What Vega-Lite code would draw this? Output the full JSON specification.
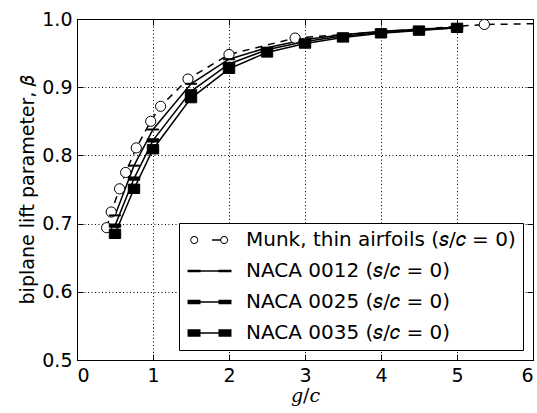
{
  "$schema": "https://vega.github.io/schema/vega-lite/v6.json",
  "width": 456,
  "height": 341,
  "autosize": "none",
  "padding": {"left": 77, "top": 19, "right": 4, "bottom": 53},
  "background": "white",
  "config": {
    "view": {"stroke": "black", "strokeWidth": 1},
    "font": "DejaVu Sans",
    "axis": {
      "labelFont": "DejaVu Sans",
      "labelFontSize": 19,
      "labelColor": "black",
      "domainColor": "black",
      "domainWidth": 1,
      "tickColor": "black",
      "tickWidth": 1,
      "gridColor": "black",
      "gridDash": [1, 2.5],
      "gridWidth": 1,
      "gridOpacity": 1
    }
  },
  "data": {
    "values": [
      {"series": "Munk, thin airfoils (𝑠/𝑐 = 0)", "g": 0.39, "beta": 0.694},
      {"series": "Munk, thin airfoils (𝑠/𝑐 = 0)", "g": 0.45, "beta": 0.717},
      {"series": "Munk, thin airfoils (𝑠/𝑐 = 0)", "g": 0.56, "beta": 0.751},
      {"series": "Munk, thin airfoils (𝑠/𝑐 = 0)", "g": 0.64, "beta": 0.775},
      {"series": "Munk, thin airfoils (𝑠/𝑐 = 0)", "g": 0.78, "beta": 0.811},
      {"series": "Munk, thin airfoils (𝑠/𝑐 = 0)", "g": 0.97, "beta": 0.85},
      {"series": "Munk, thin airfoils (𝑠/𝑐 = 0)", "g": 1.1, "beta": 0.872},
      {"series": "Munk, thin airfoils (𝑠/𝑐 = 0)", "g": 1.46, "beta": 0.912},
      {"series": "Munk, thin airfoils (𝑠/𝑐 = 0)", "g": 2.0, "beta": 0.948},
      {"series": "Munk, thin airfoils (𝑠/𝑐 = 0)", "g": 2.87, "beta": 0.972},
      {"series": "Munk, thin airfoils (𝑠/𝑐 = 0)", "g": 5.36, "beta": 0.992},
      {"series": "Munk, thin airfoils (𝑠/𝑐 = 0)", "g": 6.0, "beta": 0.993},
      {"series": "NACA 0012 (𝑠/𝑐 = 0)", "g": 0.5, "beta": 0.712},
      {"series": "NACA 0012 (𝑠/𝑐 = 0)", "g": 0.75, "beta": 0.785},
      {"series": "NACA 0012 (𝑠/𝑐 = 0)", "g": 1.0, "beta": 0.838},
      {"series": "NACA 0012 (𝑠/𝑐 = 0)", "g": 1.5, "beta": 0.905},
      {"series": "NACA 0012 (𝑠/𝑐 = 0)", "g": 2.0, "beta": 0.941},
      {"series": "NACA 0012 (𝑠/𝑐 = 0)", "g": 2.5, "beta": 0.958},
      {"series": "NACA 0012 (𝑠/𝑐 = 0)", "g": 3.0, "beta": 0.97},
      {"series": "NACA 0012 (𝑠/𝑐 = 0)", "g": 3.5, "beta": 0.977},
      {"series": "NACA 0012 (𝑠/𝑐 = 0)", "g": 4.0, "beta": 0.982},
      {"series": "NACA 0012 (𝑠/𝑐 = 0)", "g": 4.5, "beta": 0.985},
      {"series": "NACA 0012 (𝑠/𝑐 = 0)", "g": 5.0, "beta": 0.988},
      {"series": "NACA 0025 (𝑠/𝑐 = 0)", "g": 0.5, "beta": 0.697},
      {"series": "NACA 0025 (𝑠/𝑐 = 0)", "g": 0.75, "beta": 0.766},
      {"series": "NACA 0025 (𝑠/𝑐 = 0)", "g": 1.0, "beta": 0.822},
      {"series": "NACA 0025 (𝑠/𝑐 = 0)", "g": 1.5, "beta": 0.894},
      {"series": "NACA 0025 (𝑠/𝑐 = 0)", "g": 2.0, "beta": 0.934},
      {"series": "NACA 0025 (𝑠/𝑐 = 0)", "g": 2.5, "beta": 0.955},
      {"series": "NACA 0025 (𝑠/𝑐 = 0)", "g": 3.0, "beta": 0.967},
      {"series": "NACA 0025 (𝑠/𝑐 = 0)", "g": 3.5, "beta": 0.975},
      {"series": "NACA 0025 (𝑠/𝑐 = 0)", "g": 4.0, "beta": 0.98},
      {"series": "NACA 0025 (𝑠/𝑐 = 0)", "g": 4.5, "beta": 0.984},
      {"series": "NACA 0025 (𝑠/𝑐 = 0)", "g": 5.0, "beta": 0.987},
      {"series": "NACA 0035 (𝑠/𝑐 = 0)", "g": 0.5, "beta": 0.685},
      {"series": "NACA 0035 (𝑠/𝑐 = 0)", "g": 0.75, "beta": 0.751},
      {"series": "NACA 0035 (𝑠/𝑐 = 0)", "g": 1.0, "beta": 0.809},
      {"series": "NACA 0035 (𝑠/𝑐 = 0)", "g": 1.5, "beta": 0.884},
      {"series": "NACA 0035 (𝑠/𝑐 = 0)", "g": 2.0, "beta": 0.927},
      {"series": "NACA 0035 (𝑠/𝑐 = 0)", "g": 2.5, "beta": 0.951},
      {"series": "NACA 0035 (𝑠/𝑐 = 0)", "g": 3.0, "beta": 0.964},
      {"series": "NACA 0035 (𝑠/𝑐 = 0)", "g": 3.5, "beta": 0.973},
      {"series": "NACA 0035 (𝑠/𝑐 = 0)", "g": 4.0, "beta": 0.979},
      {"series": "NACA 0035 (𝑠/𝑐 = 0)", "g": 4.5, "beta": 0.983},
      {"series": "NACA 0035 (𝑠/𝑐 = 0)", "g": 5.0, "beta": 0.987}
    ]
  },
  "resolve": {
    "axis": {"x": "independent", "y": "independent"},
    "scale": {"shape": "independent"}
  },
  "layer": [
    {
      "transform": [{"filter": {"field": "series", "equal": "Munk, thin airfoils (𝑠/𝑐 = 0)"}}],
      "mark": {"type": "line", "color": "black", "strokeWidth": 1.5, "strokeDash": [7, 6], "clip": true},
      "encoding": {
        "x": {
          "field": "g", "type": "quantitative",
          "scale": {"domain": [0, 6], "nice": false, "zero": false},
          "axis": {
            "orient": "bottom", "values": [0, 1, 2, 3, 4, 5, 6], "format": "d",
            "grid": true, "tickSize": -6, "labelPadding": 12,
            "title": "𝑔/𝑐", "titleFont": "DejaVu Serif", "titleFontSize": 19,
            "titleFontWeight": "normal", "titleColor": "black", "titleY": 26
          }
        },
        "y": {
          "field": "beta", "type": "quantitative",
          "scale": {"domain": [0.5, 1.0], "nice": false, "zero": false},
          "axis": {
            "orient": "left", "values": [0.5, 0.6, 0.7, 0.8, 0.9, 1.0], "format": ".1f",
            "grid": true, "tickSize": -6, "labelPadding": 11,
            "title": "biplane lift parameter, 𝛽", "titleFont": "DejaVu Sans", "titleFontSize": 19,
            "titleFontWeight": "normal", "titleColor": "black", "titleX": -40
          }
        }
      }
    },
    {
      "transform": [{"filter": {"not": {"field": "series", "equal": "Munk, thin airfoils (𝑠/𝑐 = 0)"}}}],
      "mark": {"type": "line", "color": "black", "strokeWidth": 1.5, "clip": true},
      "encoding": {
        "x": {"field": "g", "type": "quantitative", "axis": null},
        "y": {"field": "beta", "type": "quantitative", "axis": null},
        "detail": {"field": "series"}
      }
    },
    {
      "transform": [{"filter": "datum.g < 6"}],
      "mark": {"type": "point", "filled": true, "opacity": 1, "stroke": "black", "strokeWidth": 1, "size": 144},
      "encoding": {
        "x": {
          "field": "g", "type": "quantitative",
          "axis": {"orient": "top", "values": [0, 1, 2, 3, 4, 5, 6], "labels": false, "grid": false, "tickSize": -6, "title": null}
        },
        "y": {
          "field": "beta", "type": "quantitative",
          "axis": {"orient": "right", "values": [0.5, 0.6, 0.7, 0.8, 0.9, 1.0], "labels": false, "grid": false, "tickSize": -6, "title": null}
        },
        "fill": {
          "condition": {"test": {"field": "series", "equal": "Munk, thin airfoils (𝑠/𝑐 = 0)"}, "value": "white"},
          "value": "black"
        },
        "shape": {
          "field": "series", "type": "nominal", "legend": null,
          "scale": {
            "domain": ["Munk, thin airfoils (𝑠/𝑐 = 0)", "NACA 0012 (𝑠/𝑐 = 0)", "NACA 0025 (𝑠/𝑐 = 0)", "NACA 0035 (𝑠/𝑐 = 0)"],
            "range": [
              "M-0.85,0A0.85,0.85,0,1,1,0.85,0A0.85,0.85,0,1,1,-0.85,0Z",
              "M-0.95,-0.08H0.95V0.08H-0.95Z",
              "M-0.95,-0.27H0.95V0.27H-0.95Z",
              "M-0.95,-0.78H0.95V0.78H-0.95Z"
            ]
          }
        }
      }
    },
    {
      "transform": [{"filter": "datum.g < 6"}],
      "mark": {"type": "point", "filled": true, "opacity": 0, "fill": "black", "strokeWidth": 0},
      "encoding": {
        "x": {"field": "g", "type": "quantitative", "axis": null},
        "y": {"field": "beta", "type": "quantitative", "axis": null},
        "shape": {
          "field": "series", "type": "nominal",
          "scale": {
            "domain": ["Munk, thin airfoils (𝑠/𝑐 = 0)", "NACA 0012 (𝑠/𝑐 = 0)", "NACA 0025 (𝑠/𝑐 = 0)", "NACA 0035 (𝑠/𝑐 = 0)"],
            "range": [
              "M-0.72,0A0.5,0.5,0,1,1,0.28,0A0.5,0.5,0,1,1,-0.72,0ZM-0.6,0A0.38,0.38,0,1,0,0.16,0A0.38,0.38,0,1,0,-0.6,0ZM2,-0.09H3.03V0.09H2ZM3.02,0A0.5,0.5,0,1,1,4.02,0A0.5,0.5,0,1,1,3.02,0ZM3.14,0A0.38,0.38,0,1,0,3.9,0A0.38,0.38,0,1,0,3.14,0Z",
              "M-0.25,-0.09H3.625V0.09H-0.25ZM-1.06,-0.17H0.565V0.17H-1.06ZM2.81,-0.17H4.435V0.17H2.81Z",
              "M-0.25,-0.09H3.625V0.09H-0.25ZM-1.06,-0.29H0.565V0.29H-1.06ZM2.81,-0.29H4.435V0.29H2.81Z",
              "M-0.25,-0.09H3.625V0.09H-0.25ZM-1.06,-0.48H0.565V0.48H-1.06ZM2.81,-0.48H4.435V0.48H2.81Z"
            ]
          },
          "legend": {
            "title": null,
            "orient": "bottom-right",
            "offset": 10,
            "padding": 7,
            "strokeColor": "black",
            "fillColor": "white",
            "cornerRadius": 0,
            "labelFont": "DejaVu Sans",
            "labelFontSize": 20,
            "labelColor": "black",
            "labelLimit": 400,
            "labelOffset": 40,
            "rowPadding": 11,
            "symbolSize": 256,
            "symbolOpacity": 1,
            "symbolFillColor": "black",
            "symbolStrokeWidth": 0
          }
        }
      }
    }
  ]
}
